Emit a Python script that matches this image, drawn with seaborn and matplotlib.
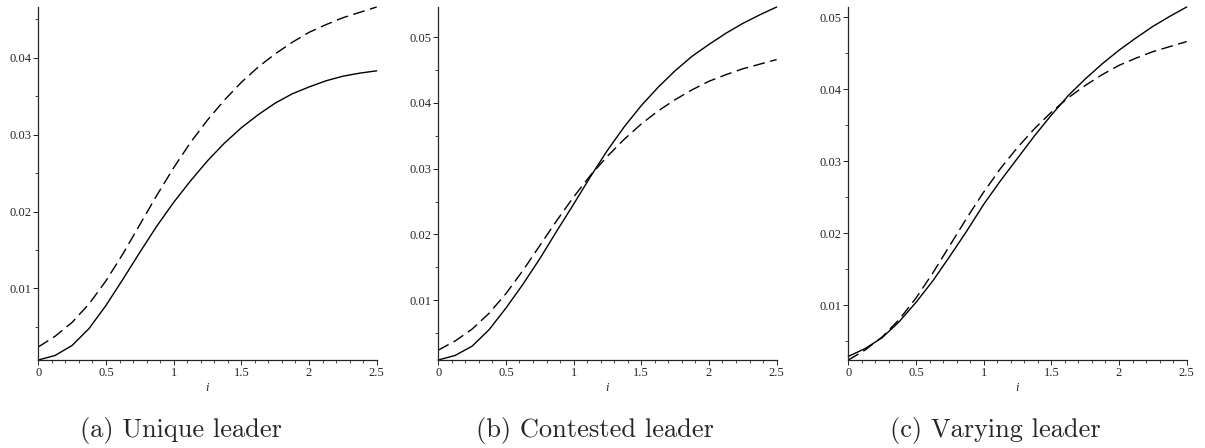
import numpy as np
import pandas as pd
import matplotlib
matplotlib.use("Agg")
import matplotlib.pyplot as plt
from matplotlib.ticker import MultipleLocator, FormatStrFormatter
import seaborn as sns

# i values shared by every curve
i_vals = [0.0, 0.125, 0.25, 0.375, 0.5, 0.625, 0.75, 0.875, 1.0, 1.125, 1.25,
          1.375, 1.5, 1.625, 1.75, 1.875, 2.0, 2.125, 2.25, 2.375, 2.5]

# dashed benchmark curve (same in all three panels)
benchmark = [0.0024, 0.0038, 0.0056, 0.0080, 0.0110, 0.0145, 0.0183, 0.0221,
             0.0257, 0.0290, 0.0319, 0.0345, 0.0368, 0.0388, 0.0405, 0.0420,
             0.0433, 0.0443, 0.0452, 0.0459, 0.0466]

# solid curves, one per panel
unique_leader = [0.0007, 0.0013, 0.0026, 0.0048, 0.0078, 0.0112, 0.0147, 0.0181,
                 0.0212, 0.0240, 0.0266, 0.0289, 0.0309, 0.0326, 0.0341, 0.0353,
                 0.0362, 0.0370, 0.0376, 0.0380, 0.0383]
contested_leader = [0.0009, 0.0016, 0.0030, 0.0055, 0.0088, 0.0124, 0.0163, 0.0205,
                    0.0246, 0.0288, 0.0328, 0.0364, 0.0396, 0.0424, 0.0449, 0.0471,
                    0.0489, 0.0506, 0.0521, 0.0534, 0.0546]
varying_leader = [0.0029, 0.0040, 0.0055, 0.0077, 0.0104, 0.0134, 0.0168, 0.0203,
                  0.0240, 0.0273, 0.0304, 0.0335, 0.0364, 0.0391, 0.0414, 0.0435,
                  0.0454, 0.0471, 0.0487, 0.0501, 0.0514]

captions = ["(a) Unique leader", "(b) Contested leader", "(c) Varying leader"]
solids = [unique_leader, contested_leader, varying_leader]

sns.set_style("ticks")
plt.rcParams['font.family'] = ['Liberation Serif', 'DejaVu Serif']

fig = plt.figure(figsize=(12.05, 4.48), dpi=100)
lefts = [0.0318, 0.3637, 0.7040]
cap_x = [0.150, 0.494, 0.826]

for k in range(3):
    ax = fig.add_axes([lefts[k], 0.1964, 0.2808, 0.788])
    df = pd.DataFrame({"i": i_vals, "solid": solids[k], "dashed": benchmark})
    sns.lineplot(data=df, x="i", y="dashed", ax=ax, color="black",
                 linewidth=1.0, linestyle=(0, (8.5, 4.0)), clip_on=False)
    sns.lineplot(data=df, x="i", y="solid", ax=ax, color="black",
                 linewidth=1.0, clip_on=False)

    lo = min(min(solids[k]), min(benchmark))
    hi = max(max(solids[k]), max(benchmark))
    ax.set_ylim(lo, hi)
    ax.set_xlim(0, 2.5)

    sns.despine(ax=ax)
    ax.spines['left'].set_linewidth(0.9)
    ax.spines['bottom'].set_linewidth(0.9)

    ax.xaxis.set_major_locator(MultipleLocator(0.5))
    ax.xaxis.set_minor_locator(MultipleLocator(0.1))
    ax.yaxis.set_major_locator(MultipleLocator(0.01))
    ax.yaxis.set_minor_locator(MultipleLocator(0.005))
    ax.xaxis.set_major_formatter(FormatStrFormatter('%g'))
    ax.yaxis.set_major_formatter(FormatStrFormatter('%.2f'))
    ax.tick_params(which='major', length=3.5, width=0.7, labelsize=9, pad=1.5)
    ax.tick_params(which='minor', length=2.0, width=0.6)

    ax.set_xlabel("i", fontsize=9, fontstyle="italic", labelpad=2)
    ax.set_ylabel("")

    fig.text(cap_x[k], 0.04, captions[k], ha="center", va="center",
             fontsize=19, family="cmr10")

fig.savefig("out.png", dpi=100)
